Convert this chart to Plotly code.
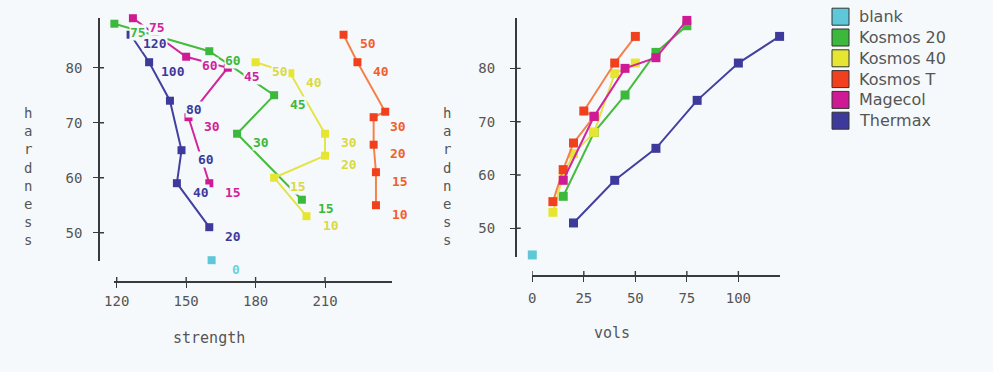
import plotly.graph_objects as go

W, H = 993, 372
BG = "#f6f9fb"
AXC = "#3a3a3a"
TXT = "#555555"

# ---- data: one row per measurement (strength, hardness, vols) ----
series_names = ["blank", "Kosmos 20", "Kosmos 40", "Kosmos T", "Magecol", "Thermax"]

blank_vols = [0]
blank_strength = [161]
blank_hardness = [45]

k20_vols = [15, 30, 45, 60, 75]
k20_strength = [200, 172, 188, 160, 119]
k20_hardness = [56, 68, 75, 83, 88]

k40_vols = [10, 15, 20, 30, 40, 50]
k40_strength = [202, 188, 210, 210, 195, 180]
k40_hardness = [53, 60, 64, 68, 79, 81]

kt_vols = [10, 15, 20, 30, 25, 40, 50]
kt_strength = [232, 232, 231, 231, 236, 224, 218]
kt_hardness = [55, 61, 66, 71, 72, 81, 86]
kt_shown = [True, True, True, True, False, True, True]

mg_vols = [15, 30, 45, 60, 75]
mg_strength = [160, 151, 168, 150, 127]
mg_hardness = [59, 71, 80, 82, 89]

th_vols = [20, 40, 60, 80, 100, 120]
th_strength = [160, 146, 148, 143, 134, 126]
th_hardness = [51, 59, 65, 74, 81, 86]

strength_ticks = [120, 150, 180, 210]
vols_ticks = [0, 25, 50, 75, 100]
hardness_ticks = [50, 60, 70, 80]

# ---- styles ----
styles = {
    "blank":     dict(marker="#5ec8d8", line="#5ec8d8", text="#6fd0dd"),
    "Kosmos 20": dict(marker="#3cb83c", line="#46bb3e", text="#3cb83c"),
    "Kosmos 40": dict(marker="#e6e632", line="#e4e44a", text="#d9d942"),
    "Kosmos T":  dict(marker="#f0401e", line="#f5814a", text="#f0602e"),
    "Magecol":   dict(marker="#cf1a95", line="#d0279c", text="#d0249a"),
    "Thermax":   dict(marker="#3d3a9c", line="#4240a0", text="#3d3a9c"),
}

table = [
    ("blank", blank_vols, blank_strength, blank_hardness, None),
    ("Kosmos 20", k20_vols, k20_strength, k20_hardness, None),
    ("Kosmos 40", k40_vols, k40_strength, k40_hardness, None),
    ("Kosmos T", kt_vols, kt_strength, kt_hardness, kt_shown),
    ("Magecol", mg_vols, mg_strength, mg_hardness, None),
    ("Thermax", th_vols, th_strength, th_hardness, None),
]


def px_x(p):
    return p / W


def px_y(p):
    return (H - p) / H


fig = go.Figure()

for name, vols, strength, hardness, shown in table:
    st = styles[name]
    common = dict(mode="lines+markers", showlegend=False, hoverinfo="skip",
                  cliponaxis=False,
                  line=dict(color=st["line"], width=2))
    fig.add_trace(go.Scatter(x=strength, y=hardness, xaxis="x", yaxis="y",
                             marker=dict(symbol="square", size=8, color=st["marker"]),
                             **common))
    fig.add_trace(go.Scatter(x=vols, y=hardness, xaxis="x2", yaxis="y2",
                             marker=dict(symbol="square", size=9, color=st["marker"]),
                             **common))

# value labels on the strength/hardness panel
for name, vols, strength, hardness, shown in table:
    st = styles[name]
    for i, (v, s, h) in enumerate(zip(vols, strength, hardness)):
        if shown is not None and not shown[i]:
            continue
        fig.add_annotation(x=s, y=h, xref="x", yref="y", text=str(v),
                           showarrow=False, xshift=24, yshift=-9,
                           xanchor="center", yanchor="middle",
                           bgcolor=BG, borderpad=0,
                           font=dict(family="DejaVu Sans Mono", size=13,
                                     color=st["text"], weight="bold"))

axis_base = dict(showgrid=False, zeroline=False, showline=True, linecolor=AXC,
                 linewidth=1.6, ticks="outside", ticklen=5, tickwidth=1.4,
                 tickcolor=AXC, fixedrange=True, automargin=False,
                 tickfont=dict(family="DejaVu Sans Mono", size=14, color=TXT))

# left panel geometry (px positions of the axis lines)
lx_rng = [118.8, 238.8]
ly_rng = [44.8, 89.04]
lx_dom = [px_x(116.7 - 1.2 * 2.315), px_x(391.7)]
ly_dom = [px_y(232.7 + 5.2 * 5.5), px_y(18)]
lx_line_y = 282
ly_line_x = 99

# right panel geometry
rx_rng = [0, 120.2]
ry_rng = [44.67, 89.45]
rx_dom = [px_x(532.3), px_x(780)]
ry_dom = [px_y(256.7), px_y(18)]
rx_line_y = 276
ry_line_x = 515.7

fig.update_layout(
    width=W, height=H,
    margin=dict(l=0, r=0, t=0, b=0, pad=0, autoexpand=False),
    paper_bgcolor=BG, plot_bgcolor=BG,
    showlegend=False,
    xaxis=dict(domain=lx_dom, range=lx_rng, anchor="free", position=px_y(lx_line_y),
               tickvals=strength_ticks, ticklabelstandoff=1, **axis_base),
    yaxis=dict(domain=ly_dom, range=ly_rng, anchor="free", position=px_x(ly_line_x),
               tickvals=hardness_ticks, ticklabelstandoff=8, **axis_base),
    xaxis2=dict(domain=rx_dom, range=rx_rng, anchor="free", position=px_y(rx_line_y),
                tickvals=vols_ticks, ticklabelstandoff=4, **axis_base),
    yaxis2=dict(domain=ry_dom, range=ry_rng, anchor="free", position=px_x(ry_line_x),
                tickvals=hardness_ticks, ticklabelstandoff=12, **axis_base),
)

# inner half of the cross-shaped tick marks
tick_in = dict(color=AXC, width=1.4)
for xref, ticks, line_y in (("x", strength_ticks, lx_line_y), ("x2", vols_ticks, rx_line_y)):
    for t in ticks:
        fig.add_shape(type="line", xref=xref, yref="paper", x0=t, x1=t,
                      y0=px_y(line_y), y1=px_y(line_y - 5), line=tick_in)
for yref, line_x in (("y", ly_line_x), ("y2", ry_line_x)):
    for t in hardness_ticks:
        fig.add_shape(type="line", xref="paper", yref=yref, y0=t, y1=t,
                      x0=px_x(line_x), x1=px_x(line_x + 5), line=tick_in)

# axis titles
title_font = dict(family="DejaVu Sans Mono", size=15, color=TXT)
fig.add_annotation(x=px_x(209), y=px_y(338), xref="paper", yref="paper",
                   xanchor="center", yanchor="middle",
                   text="strength", showarrow=False, font=title_font)
fig.add_annotation(x=px_x(612), y=px_y(333), xref="paper", yref="paper",
                   xanchor="center", yanchor="middle",
                   text="vols", showarrow=False, font=title_font)
stacked = "<br>".join("hardness")
for cx in (28, 447):
    fig.add_annotation(x=px_x(cx), y=px_y(176), xref="paper", yref="paper",
                       xanchor="center", yanchor="middle",
                       text=stacked, showarrow=False,
                       font=dict(family="DejaVu Sans Mono", size=14, color=TXT))

# legend: colour swatch + name per series
for i, name in enumerate(series_names):
    cy = 16.7 + 20.8 * i
    fig.add_shape(type="rect", xref="paper", yref="paper",
                  x0=px_x(832), x1=px_x(849), y0=px_y(cy + 8.5), y1=px_y(cy - 8.5),
                  fillcolor=styles[name]["marker"], line=dict(color="#333333", width=1))
    fig.add_annotation(x=px_x(857), y=px_y(cy), xref="paper", yref="paper",
                       text=name, showarrow=False, xanchor="left", yanchor="middle",
                       font=dict(family="DejaVu Sans", size=16, color=TXT))

fig.write_html("out.html")
